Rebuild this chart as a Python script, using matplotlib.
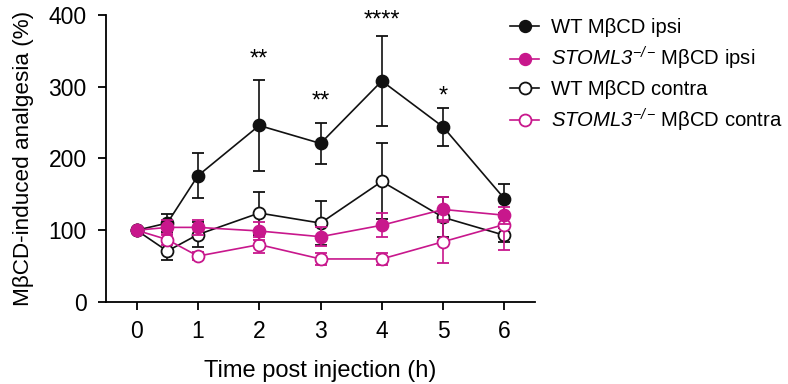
import matplotlib
matplotlib.use("Agg")
import matplotlib.pyplot as plt
from matplotlib.lines import Line2D

plt.rcParams['font.family'] = ['Liberation Sans', 'DejaVu Sans']
plt.rcParams['mathtext.fontset'] = 'custom'
plt.rcParams['mathtext.rm'] = 'Liberation Sans:italic'
plt.rcParams['mathtext.it'] = 'Liberation Sans:italic'

time = [0, 0.5, 1, 2, 3, 4, 5, 6]
wt_ipsi = [100, 110, 176, 246, 221, 308, 244, 144]
wt_ipsi_err = [0, 12, 31, 63, 29, 63, 26, 20]
ko_ipsi = [100, 104, 104, 99, 91, 107, 129, 121]
ko_ipsi_err = [0, 10, 10, 12, 13, 17, 17, 12]
wt_contra = [100, 71, 94, 124, 110, 168, 118, 93]
wt_contra_err = [0, 13, 18, 30, 31, 53, 28, 10]
ko_contra = [100, 87, 64, 80, 60, 60, 84, 108]
ko_contra_err = [0, 8, 6, 11, 9, 9, 30, 36]

star_x = [2, 3, 4, 5]
star_y = [338, 280, 392, 286]
star_labels = ['**', '**', '****', '*']

labels = ['WT MβCD ipsi', r'$STOML3^{-/-}\,$MβCD ipsi',
          'WT MβCD contra', r'$STOML3^{-/-}\,$MβCD contra']

black = '#111111'
mag = '#c8178c'

fig = plt.figure(figsize=(7.88, 3.84), dpi=100)
ax = fig.add_axes([0.1345, 0.2135, 0.679 - 0.1345, 0.961 - 0.2135])

ms = 8.6
lw = 1.2
cs = 4.5

series = [
    (wt_contra, wt_contra_err, black, 'white', 2),
    (ko_contra, ko_contra_err, mag, 'white', 3),
    (wt_ipsi, wt_ipsi_err, black, black, 4),
    (ko_ipsi, ko_ipsi_err, mag, mag, 5),
]
for y, e, c, fc, z in series:
    ax.errorbar(time, y, yerr=e, color=c, marker='o', ms=ms, mfc=fc, mec=c,
                mew=1.3, lw=lw, elinewidth=lw, capsize=cs, capthick=lw,
                zorder=z, clip_on=False)

for x, y, s in zip(star_x, star_y, star_labels):
    ax.text(x, y, s, ha='center', va='center', fontsize=17)

ax.set_xlim(-0.5, 6.5)
ax.set_ylim(0, 400)
ax.set_xticks([0, 1, 2, 3, 4, 5, 6])
ax.set_yticks([0, 100, 200, 300, 400])
for s in ['top', 'right']:
    ax.spines[s].set_visible(False)
for s in ['left', 'bottom']:
    ax.spines[s].set_linewidth(1.3)
ax.tick_params(direction='out', length=6, width=1.3, labelsize=16.5)
ax.tick_params(axis='y', pad=8)
ax.tick_params(axis='x', pad=7)
ax.set_xlabel('Time post injection (h)', fontsize=17, labelpad=12)
ax.set_ylabel('MβCD-induced analgesia (%)', fontsize=16.2, labelpad=10)

handles = [
    Line2D([], [], color=black, marker='o', ms=ms, mfc=black, mec=black, lw=lw),
    Line2D([], [], color=mag, marker='o', ms=ms, mfc=mag, mec=mag, lw=lw),
    Line2D([], [], color=black, marker='o', ms=ms, mfc='white', mec=black, mew=1.3, lw=lw),
    Line2D([], [], color=mag, marker='o', ms=ms, mfc='white', mec=mag, mew=1.3, lw=lw),
]
fig.legend(handles, labels, loc='upper left', bbox_to_anchor=(0.624, 1.0),
           frameon=False, fontsize=14.6, handlelength=1.45, handletextpad=0.55,
           labelspacing=0.38)

fig.savefig('out.png', dpi=100)
